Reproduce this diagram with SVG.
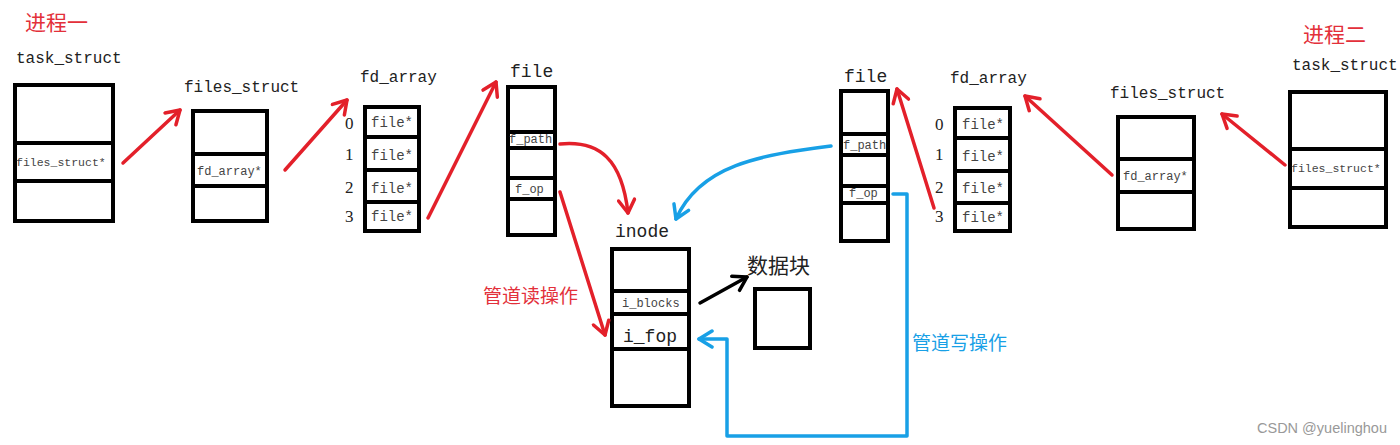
<svg xmlns="http://www.w3.org/2000/svg" width="1400" height="445" viewBox="0 0 1400 445">
<defs>
<style>
.box{fill:#fff;stroke:#000;stroke-width:4}
.div{stroke:#000;stroke-width:4}
.lbl{font-family:"Liberation Mono","DejaVu Sans Mono",monospace;fill:#222}
.cell{font-family:"Liberation Mono","DejaVu Sans Mono",monospace;fill:#444}
.idx{font-family:"Liberation Serif",serif;font-size:17px;fill:#222}
.cn{font-family:"Noto Sans CJK SC",sans-serif}
.red{fill:none;stroke:#e3202a;stroke-width:3.5;stroke-linecap:round;stroke-linejoin:round}
.blue{fill:none;stroke:#18a0e6;stroke-width:3.5;stroke-linecap:round;stroke-linejoin:round}
.blk{fill:none;stroke:#000;stroke-width:3.5;stroke-linecap:round}
</style>
<marker id="ar" viewBox="0 0 20 20" refX="17" refY="10" markerWidth="20" markerHeight="20" markerUnits="userSpaceOnUse" orient="auto"><path d="M4,2 L17,10 L4,18" fill="none" stroke="#e3202a" stroke-width="3.5" stroke-linecap="round" stroke-linejoin="round"/></marker>
<marker id="ab" viewBox="0 0 20 20" refX="17" refY="10" markerWidth="20" markerHeight="20" markerUnits="userSpaceOnUse" orient="auto"><path d="M4,2 L17,10 L4,18" fill="none" stroke="#18a0e6" stroke-width="3.5" stroke-linecap="round" stroke-linejoin="round"/></marker>
<marker id="ak" viewBox="0 0 20 20" refX="17" refY="10" markerWidth="20" markerHeight="20" markerUnits="userSpaceOnUse" orient="auto"><path d="M4,2 L17,10 L4,18" fill="none" stroke="#000" stroke-width="3.5" stroke-linecap="round" stroke-linejoin="round"/></marker>
</defs>
<rect width="1400" height="445" fill="#fff"/>

<text class="cn" x="25" y="30" font-size="21" fill="#e3303a">进程一</text>
<text class="cn" x="1303" y="42" font-size="21" fill="#e3303a">进程二</text>

<g id="task_struct_1">
<text class="lbl" x="16" y="63" font-size="16">task_struct</text>
<rect class="box" x="15" y="85" width="98" height="136"/>
<line class="div" x1="15" y1="143" x2="113" y2="143"/>
<line class="div" x1="15" y1="181" x2="113" y2="181"/>
<text class="cell" x="16" y="166" font-size="11.5">files_struct*</text>
</g>

<g id="files_struct_1">
<text class="lbl" x="184" y="92" font-size="16">files_struct</text>
<rect class="box" x="193" y="111" width="74" height="110"/>
<line class="div" x1="193" y1="154" x2="267" y2="154"/>
<line class="div" x1="193" y1="186" x2="267" y2="186"/>
<text class="cell" x="197" y="175" font-size="12">fd_array*</text>
</g>

<g id="fd_array_1">
<text class="lbl" x="360" y="82" font-size="16">fd_array</text>
<rect class="box" x="365" y="107" width="54" height="124"/>
<line class="div" x1="365" y1="137" x2="419" y2="137"/>
<line class="div" x1="365" y1="170" x2="419" y2="170"/>
<line class="div" x1="365" y1="202" x2="419" y2="202"/>
<text class="idx" x="345" y="129">0</text>
<text class="idx" x="345" y="160">1</text>
<text class="idx" x="345" y="193">2</text>
<text class="idx" x="345" y="222">3</text>
<text class="cell" x="371" y="127" font-size="14">file*</text>
<text class="cell" x="371" y="160" font-size="14">file*</text>
<text class="cell" x="371" y="193" font-size="14">file*</text>
<text class="cell" x="371" y="221" font-size="14">file*</text>
</g>

<g id="file_1">
<text class="lbl" x="510" y="77" font-size="18">file</text>
<rect class="box" x="508" y="87" width="47" height="148"/>
<line class="div" x1="508" y1="132" x2="555" y2="132"/>
<line class="div" x1="508" y1="148" x2="555" y2="148"/>
<line class="div" x1="508" y1="178" x2="555" y2="178"/>
<line class="div" x1="508" y1="199" x2="555" y2="199"/>
<text class="cell" x="509" y="143" font-size="12">f_path</text>
<text class="cell" x="515" y="193" font-size="12">f_op</text>
</g>

<g id="inode">
<text class="lbl" x="615" y="237" font-size="18">inode</text>
<rect class="box" x="612" y="249" width="77" height="157"/>
<line class="div" x1="612" y1="291" x2="689" y2="291"/>
<line class="div" x1="612" y1="314" x2="689" y2="314"/>
<line class="div" x1="612" y1="349" x2="689" y2="349"/>
<text class="cell" x="622" y="307" font-size="12">i_blocks</text>
<text class="lbl" x="623" y="342" font-size="18">i_fop</text>
</g>

<g id="data_block">
<text class="cn" x="747" y="273" font-size="21" fill="#222">数据块</text>
<rect class="box" x="755" y="289" width="55" height="59"/>
</g>

<g id="file_2">
<text class="lbl" x="844" y="82" font-size="18">file</text>
<rect class="box" x="841" y="91" width="47" height="150"/>
<line class="div" x1="841" y1="134" x2="888" y2="134"/>
<line class="div" x1="841" y1="155" x2="888" y2="155"/>
<line class="div" x1="841" y1="186" x2="888" y2="186"/>
<line class="div" x1="841" y1="203" x2="888" y2="203"/>
<text class="cell" x="843" y="149" font-size="12">f_path</text>
<text class="cell" x="849" y="197" font-size="12">f_op</text>
</g>

<g id="fd_array_2">
<text class="lbl" x="950" y="83" font-size="16">fd_array</text>
<rect class="box" x="955" y="108" width="55" height="123"/>
<line class="div" x1="955" y1="138" x2="1010" y2="138"/>
<line class="div" x1="955" y1="171" x2="1010" y2="171"/>
<line class="div" x1="955" y1="203" x2="1010" y2="203"/>
<text class="idx" x="935" y="130">0</text>
<text class="idx" x="935" y="160">1</text>
<text class="idx" x="935" y="193">2</text>
<text class="idx" x="935" y="222">3</text>
<text class="cell" x="962" y="129" font-size="14">file*</text>
<text class="cell" x="962" y="161" font-size="14">file*</text>
<text class="cell" x="962" y="193" font-size="14">file*</text>
<text class="cell" x="962" y="222" font-size="14">file*</text>
</g>

<g id="files_struct_2">
<text class="lbl" x="1110" y="98" font-size="16">files_struct</text>
<rect class="box" x="1118" y="117" width="76" height="112"/>
<line class="div" x1="1118" y1="159" x2="1194" y2="159"/>
<line class="div" x1="1118" y1="192" x2="1194" y2="192"/>
<text class="cell" x="1123" y="180" font-size="12">fd_array*</text>
</g>

<g id="task_struct_2">
<text class="lbl" x="1292" y="70" font-size="16">task_struct</text>
<rect class="box" x="1290" y="92" width="96" height="135"/>
<line class="div" x1="1290" y1="149" x2="1386" y2="149"/>
<line class="div" x1="1290" y1="188" x2="1386" y2="188"/>
<text class="cell" x="1291" y="172" font-size="11.5">files_struct*</text>
</g>

<g id="connectors">
<path class="red" d="M123,163 L180,110" marker-end="url(#ar)"/>
<path class="red" d="M285,170 L347,100" marker-end="url(#ar)"/>
<path class="red" d="M428,218 L496,82" marker-end="url(#ar)"/>
<path class="red" d="M560,144 C600,140 622,160 628,213" marker-end="url(#ar)"/>
<path class="red" d="M560,192 L605,335" marker-end="url(#ar)"/>
<path class="blue" d="M831,146 C760,155 700,165 676,219" marker-end="url(#ab)"/>
<path class="blue" d="M893,194 L907,194 L907,436 L727,436 L727,339 L699,339" marker-end="url(#ab)"/>
<path class="blk" d="M700,303 L747,277" marker-end="url(#ak)"/>
<path class="red" d="M934,208 L897,89" marker-end="url(#ar)"/>
<path class="red" d="M1112,175 L1025,96" marker-end="url(#ar)"/>
<path class="red" d="M1285,165 L1222,114" marker-end="url(#ar)"/>
</g>

<text class="cn" x="483" y="303" font-size="19" fill="#e3303a">管道读操作</text>
<text class="cn" x="912" y="350" font-size="19" fill="#18a0e6">管道写操作</text>
<text x="1257" y="433" font-family="Liberation Sans,Arial,sans-serif" font-size="14.5" fill="#999">CSDN @yuelinghou</text>
</svg>
